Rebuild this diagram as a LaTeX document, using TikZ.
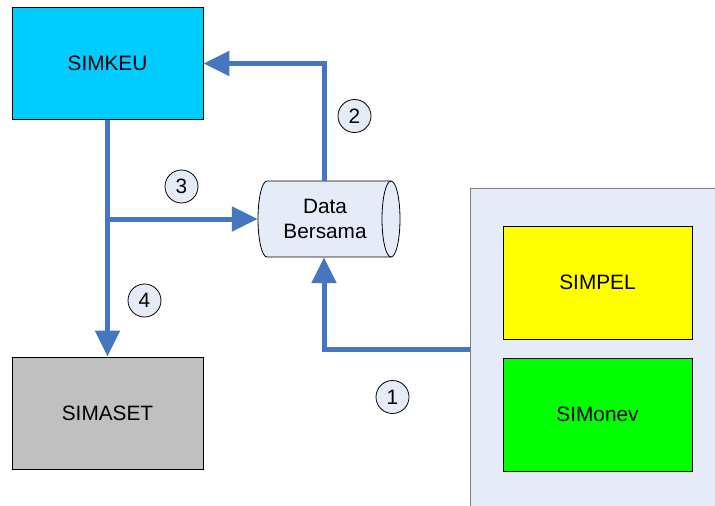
\documentclass[tikz,border=0pt]{standalone}
\usepackage{fontspec}
\setmainfont{Liberation Sans}
\usetikzlibrary{arrows.meta,calc}
\definecolor{flowblue}{RGB}{70,118,192}
\definecolor{paleblue}{RGB}{230,236,247}
\definecolor{keucyan}{RGB}{0,204,255}
\definecolor{asetgray}{RGB}{192,192,192}
\definecolor{pelyellow}{RGB}{255,255,0}
\definecolor{monevgreen}{RGB}{0,255,0}
\tikzset{
  sysbox/.style={draw=black, line width=0.8pt, rectangle, minimum width=191pt,
    minimum height=112pt, inner sep=0pt, font=\fontsize{20.8}{24}\selectfont},
  subbox/.style={sysbox, minimum width=189pt, minimum height=113pt},
  conn/.style={draw=flowblue, line width=5pt,
    -{Triangle[length=26pt,width=24pt]}},
  stepmark/.style={circle, draw=black, line width=0.8pt, fill=paleblue,
    minimum size=33pt, inner sep=0pt, font=\fontsize{20.8}{24}\selectfont},
}
\begin{document}
\begin{tikzpicture}[x=1pt,y=-1pt]
\useasboundingbox (0,0) rectangle (715,506);
\fill[white] (0,0) rectangle (715,506);

% grouping panel on the right (open at the page edges)
\fill[paleblue] (470,188) rectangle (715,506);
\draw[gray, line width=1pt] (470,506) -- (470,188) -- (715,188);
\coordinate (panelL) at (470,349);

% systems
\node[sysbox, fill=keucyan] (simkeu) at (107.5,63.5) {SIMKEU};
\node[sysbox, fill=asetgray] (simaset) at (107.5,413) {SIMASET};
\node[subbox, fill=pelyellow] (simpel) at (597.5,282.5) {SIMPEL};
\node[subbox, fill=monevgreen] (simonev) at (597.5,414.5) {SIMonev};

% shared data store (horizontal cylinder)
\path[draw=black, line width=0.8pt, fill=paleblue]
  (267,181) -- (391,181) arc(-90:90:9 and 38) -- (267,257)
  arc(90:270:9 and 38) -- cycle;
\draw[line width=0.8pt] (391,181) arc(270:90:9 and 38);
\node[minimum width=142pt, minimum height=76pt, inner sep=0pt] (db) at (329,219) {};
\node[align=center, font=\fontsize{20.8}{25}\selectfont] (dblabel) at (325,219)
  {Data\\Bersama};

% data flows
\draw[conn] ([xshift=-5pt]db.north) |- (simkeu.east);
\draw[conn] (panelL) -| ([xshift=-5pt]db.south);
\draw[conn] (simkeu.south) -- (simaset.north);
\coordinate (branch) at (simkeu.south |- db.west);
\draw[conn] (branch) -- (db.west);

% step numbers
\node[stepmark] (s1) at (392.5,397) {1};
\node[stepmark] (s2) at (354.5,116) {2};
\node[stepmark] (s3) at (181.5,186.5) {3};
\node[stepmark] (s4) at (144.5,300.5) {4};
\end{tikzpicture}
\end{document}
